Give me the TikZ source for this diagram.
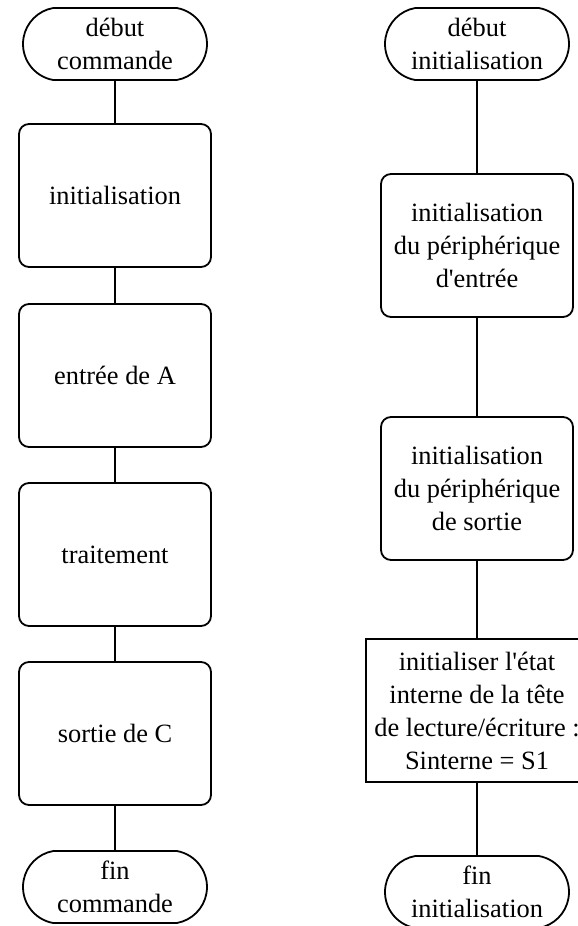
\documentclass[tikz,border=0pt]{standalone}
\usepackage{fontspec}
\setmainfont{Liberation Serif}[Ligatures=TeXOff]
\usepackage{tikz}
\usetikzlibrary{positioning,shapes.misc}

\begin{document}
\begin{tikzpicture}[
    x=0.5pt, y=-0.5pt,
    node distance=18pt,
    every node/.style={draw, line width=0.9pt, outer sep=0pt, align=center, inner sep=2pt, font=\fontsize{13.2}{16.5}\selectfont},
    term/.style={rounded rectangle, rounded rectangle arc length=160, minimum width=96pt, minimum height=36pt},
    etape/.style={rounded corners=5pt, minimum width=96pt, minimum height=71.5pt},
    action/.style={rectangle, minimum width=111pt, minimum height=71.5pt},
    lien/.style={line width=0.9pt}
]
\useasboundingbox (0,0) rectangle (578,926);
% colonne commande
\node[term] (debutc) at (115,44) {début\\commande};
\node[etape] (init) [below=22pt of debutc] {initialisation};
\node[etape] (entree) [below=18.5pt of init] {entrée de A};
\node[etape] (trait) [below=of entree] {traitement};
\node[etape] (sortie) [below=of trait] {sortie de C};
\node[term] (finc) [below=23pt of sortie] {fin\\commande};
\draw[lien] (debutc) -- (init);
\draw[lien] (init) -- (entree);
\draw[lien] (entree) -- (trait);
\draw[lien] (trait) -- (sortie);
\draw[lien] (sortie) -- (finc);
% colonne initialisation
\node[term] (debuti) at (477,44) {début\\initialisation};
\node[etape] (perin) [below=47pt of debuti] {initialisation\\du périphérique\\d'entrée};
\node[etape] (perout) [below=50pt of perin] {initialisation\\du périphérique\\de sortie};
\node[action] (etat) [below=39.5pt of perout] {initialiser l'état\\interne de la tête\\de lecture/écriture :\\Sinterne = S1};
\node[term] (fini) [below=37pt of etat] {fin\\initialisation};
\draw[lien] (debuti) -- (perin);
\draw[lien] (perin) -- (perout);
\draw[lien] (perout) -- (etat);
\draw[lien] (etat) -- (fini);
\end{tikzpicture}
\end{document}
